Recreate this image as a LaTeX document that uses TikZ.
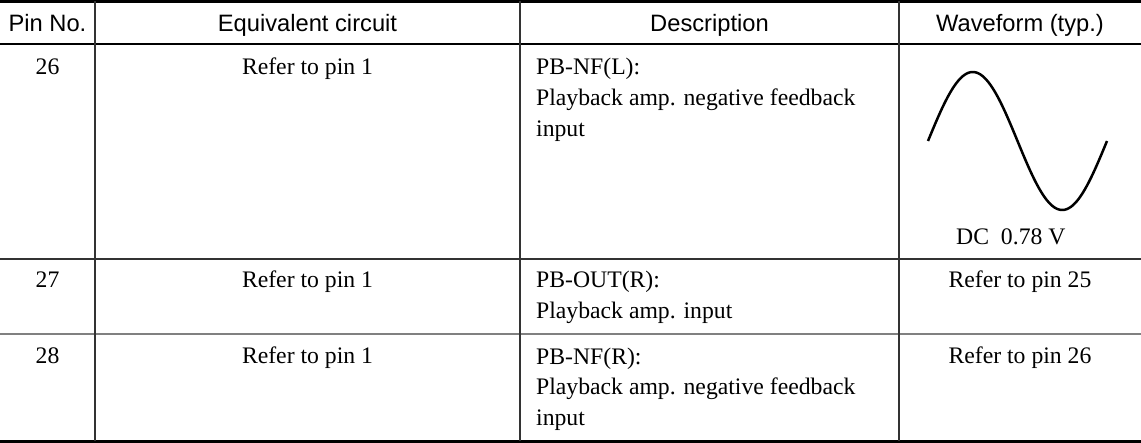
\documentclass[tikz,border=0pt]{standalone}
\usepackage{fontspec}
\setmainfont{Liberation Serif}
\newfontfamily\headfont{Liberation Sans}
\usepackage{tikz}

\begin{document}
\begin{tikzpicture}[x=1pt, y=-1pt]
\tikzstyle{cell}=[inner sep=0pt, anchor=base, font=\fontsize{23.7}{31}\selectfont]
\tikzstyle{head}=[cell, font=\headfont\fontsize{23.7}{31}\selectfont]
% multi-line text sits on the baseline of its last line
\tikzstyle{desc}=[cell, anchor=base west, align=left]
\tikzstyle{outer rule}=[line width=2.4pt]
\tikzstyle{inner rule}=[line width=1.2pt, black!80]
\useasboundingbox (0,0) rectangle (1141,443);

% header
\node[head] (hpin) at (47.5,32) {Pin No.};
\node[head] (hcirc) at (307.5,32) {Equivalent circuit};
\node[head] (hdesc) at (709.5,32) {Description};
\node[head] (hwave) at (1020,32) {Waveform (typ.)};

% pin 26
\node[cell] (pin26) at (47.5,75) {26};
\node[cell] (eq26) at (307.5,75) {Refer to pin 1};
\node[desc] (desc26) at (536,137) {PB-NF(L):\\Playback amp. negative feedback\\input};
\draw[line width=2.5pt] plot[domain=0:179, samples=90, smooth] ({928+\x}, {141-69*sin(\x/179*360)});
\node[cell, anchor=base west] (dc26) at (956,245) {DC\ \ 0.78 V};

% pin 27
\node[cell] (pin27) at (47.5,288) {27};
\node[cell] (eq27) at (307.5,288) {Refer to pin 1};
\node[desc] (desc27) at (536,319) {PB-OUT(R):\\Playback amp. input};
\node[cell] (wave27) at (1020,288) {Refer to pin 25};

% pin 28
\node[cell] (pin28) at (47.5,364) {28};
\node[cell] (eq28) at (307.5,364) {Refer to pin 1};
\node[desc] (desc28) at (536,426) {PB-NF(R):\\Playback amp. negative feedback\\input};
\node[cell] (wave28) at (1020,364) {Refer to pin 26};

% rules
\draw[outer rule] (0,1.5) -- (1141,1.5);
\draw[outer rule] (0,44) -- (1141,44);
\draw[inner rule] (0,259) -- (1141,259);
\draw[inner rule, line width=2pt, gray] (0,334) -- (1141,334);
\draw[outer rule] (0,441.5) -- (1141,441.5);
\foreach \x in {95,520,899}
  \draw[inner rule] (\x,1.5) -- (\x,441.5);
\end{tikzpicture}
\end{document}
